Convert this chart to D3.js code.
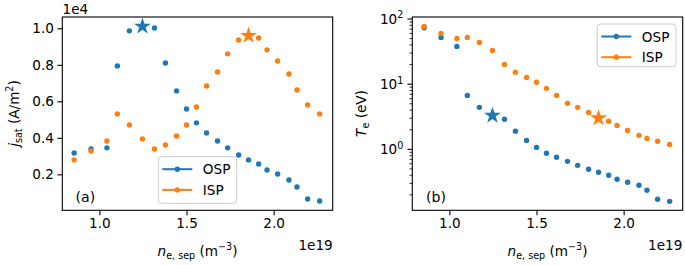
<!DOCTYPE html>
<html><head><meta charset="utf-8">
<script src="https://cdn.jsdelivr.net/npm/d3@7"></script>
<style>body{margin:0;background:#fff}svg{display:block}text{font-family:"DejaVu Sans",sans-serif;fill:#000}</style>
</head><body><svg id="c" width="685" height="265"></svg>
<script>
// density n_e,sep in units of 1e19 m^-3
const ne = [0.855,0.952,1.043,1.103,1.172,1.247,1.316,1.379,1.443,1.500,1.557,1.615,1.678,1.736,1.799,1.856,1.914,1.962,2.023,2.088,2.134,2.195,2.264];
// j_sat in units of 1e4 A/m^2
const jsatOSP = [0.317,0.339,0.345,0.794,0.986,1.015,1.002,0.810,0.657,0.558,0.482,0.427,0.383,0.345,0.306,0.279,0.257,0.224,0.202,0.169,0.131,0.065,0.054];
const jsatISP = [0.279,0.328,0.383,0.531,0.471,0.394,0.339,0.361,0.410,0.471,0.569,0.684,0.761,0.860,0.936,0.964,0.947,0.882,0.821,0.750,0.662,0.580,0.531];
// T_e in eV
const teOSP = [73.3,52.2,38.0,6.73,4.41,3.40,2.89,1.89,1.37,1.07,0.869,0.754,0.654,0.568,0.494,0.444,0.399,0.347,0.312,0.281,0.235,0.171,0.159];
const teISP = [77.0,60.1,50.4,52.2,43.8,33.0,20.1,15.2,12.7,10.7,8.62,6.73,5.08,4.41,3.69,3.10,2.69,2.33,1.95,1.64,1.47,1.33,1.19];
const starOSPIndex = 5, starISPIndex = 15;
const xTicks = [1.0,1.5,2.0];
const jTicks = [0.2,0.4,0.6,0.8,1.0];
const teTicks = [1,10,100];
const seriesNames = ["OSP","ISP"];
const colors = ["#1f77b4","#ff7f0e"];

const svg = d3.select("#c");
const FS = 13.6;
const SS = 9.6;

function panel(x0) {
  const g = svg.append("g");
  const x = d3.scaleLinear().domain([0.787,2.339]).range([x0, x0+270.4]);
  const xa = g.append("g").attr("transform","translate(0,210.3)")
    .call(d3.axisBottom(x).tickValues(xTicks).tickFormat(d3.format(".1f")).tickSize(4.9).tickPadding(3));
  xa.select(".domain").remove();
  xa.selectAll("text").attr("font-size",FS).attr("font-family","DejaVu Sans");
  xa.selectAll("line").attr("stroke","#000").attr("stroke-width",1.1);
  return {g, x};
}

function dots(g, x, y, xs, ys, color) {
  g.append("g").selectAll("circle").data(xs).join("circle")
    .attr("cx",(d)=>x(d)).attr("cy",(d,i)=>y(ys[i])).attr("r",2.7).attr("fill",color);
}
function star(g, x, y, xv, yv, color) {
  g.append("path").attr("d", d3.symbol(d3.symbolStar, 88)())
    .attr("transform",`translate(${x(xv)},${y(yv)+0.8})`).attr("fill",color);
}
function frame(g, x0) {
  g.append("rect").attr("x",x0).attr("y",17).attr("width",270.4).attr("height",193.3)
    .attr("fill","none").attr("stroke","#000").attr("stroke-width",1.1);
}
function legend(g, bx, by, bw, bh) {
  g.append("rect").attr("x",bx).attr("y",by).attr("width",bw).attr("height",bh).attr("rx",3)
    .attr("fill","#fff").attr("fill-opacity",0.8).attr("stroke","#cccccc").attr("stroke-width",1);
  seriesNames.forEach((n,i)=>{
    const yy = by + 12.5 + i*20.7;
    g.append("line").attr("x1",bx+4).attr("x2",bx+34).attr("y1",yy).attr("y2",yy)
      .attr("stroke",colors[i]).attr("stroke-width",2);
    g.append("circle").attr("cx",bx+19).attr("cy",yy).attr("r",2.7).attr("fill",colors[i]);
    g.append("text").attr("x",bx+44.5).attr("y",yy+5).attr("font-size",FS).text(n);
  });
}
function xlabel(g, cx) {
  const t = g.append("text").attr("x",cx).attr("y",255.5).attr("text-anchor","middle").attr("font-size",FS);
  t.append("tspan").attr("font-style","italic").text("n");
  t.append("tspan").attr("font-size",SS).attr("dy",3).text("e, sep");
  t.append("tspan").attr("dy",-3).text(" (m");
  t.append("tspan").attr("font-size",SS).attr("dy",-5.5).text("\u22123");
  t.append("tspan").attr("dy",5.5).text(")");
}

// Panel (a)
{
  const {g, x} = panel(62.3);
  const y = d3.scaleLinear().domain([0.003,1.062]).range([210.3,17]);
  const ya = g.append("g").attr("transform","translate(62.3,0)")
    .call(d3.axisLeft(y).tickValues(jTicks).tickFormat(d3.format(".1f")).tickSize(4.9).tickPadding(3.5));
  ya.select(".domain").remove();
  ya.selectAll("text").attr("font-size",FS).attr("font-family","DejaVu Sans");
  ya.selectAll("line").attr("stroke","#000").attr("stroke-width",1.1);
  dots(g,x,y,ne,jsatOSP,colors[0]);
  dots(g,x,y,ne,jsatISP,colors[1]);
  star(g,x,y,ne[starOSPIndex],jsatOSP[starOSPIndex],colors[0]);
  star(g,x,y,ne[starISPIndex],jsatISP[starISPIndex],colors[1]);
  legend(g,158.3,156.7,78.4,46.6);
  frame(g,62.3);
  g.append("text").attr("x",75.5).attr("y",202).attr("font-size",FS+0.5).text("(a)");
  g.append("text").attr("x",62.5).attr("y",13.5).attr("font-size",FS).text("1e4");
  g.append("text").attr("x",332.7).attr("y",250).attr("text-anchor","end").attr("font-size",FS).text("1e19");
  xlabel(g,197.5);
  const yl = g.append("text").attr("transform","translate(18.5,113.5) rotate(-90)").attr("text-anchor","middle").attr("font-size",FS);
  yl.append("tspan").attr("font-style","italic").text("j");
  yl.append("tspan").attr("font-size",SS).attr("dy",3).text("sat");
  yl.append("tspan").attr("dy",-3).text(" (A/m");
  yl.append("tspan").attr("font-size",SS).attr("dy",-5.5).text("2");
  yl.append("tspan").attr("dy",5.5).text(")");
}

// Panel (b)
{
  const {g, x} = panel(412.3);
  const y = d3.scaleLog().domain([0.1159,107.4]).range([210.3,17]);
  const ya = g.append("g").attr("transform","translate(412.3,0)");
  const minors = [];
  [0.1,1,10].forEach(dec=>{for(let k=2;k<=9;k++){const v=k*dec; if(v>=0.1159&&v<=107.4) minors.push(v);}});
  ya.selectAll("line.minor").data(minors).join("line").attr("class","minor")
    .attr("x1",0).attr("x2",-2.8).attr("y1",d=>y(d)).attr("y2",d=>y(d)).attr("stroke","#000").attr("stroke-width",0.8);
  ya.selectAll("line.major").data(teTicks).join("line").attr("class","major")
    .attr("x1",0).attr("x2",-4.9).attr("y1",d=>y(d)).attr("y2",d=>y(d)).attr("stroke","#000").attr("stroke-width",1.1);
  teTicks.forEach(v=>{
    const t = ya.append("text").attr("x",-9).attr("y",y(v)+4.9).attr("text-anchor","end").attr("font-size",FS);
    t.append("tspan").text("10");
    t.append("tspan").attr("font-size",SS).attr("dy",-5.5).text(String(Math.round(Math.log10(v))));
  });
  dots(g,x,y,ne,teOSP,colors[0]);
  dots(g,x,y,ne,teISP,colors[1]);
  star(g,x,y,ne[starOSPIndex],teOSP[starOSPIndex],colors[0]);
  star(g,x,y,ne[starISPIndex],teISP[starISPIndex],colors[1]);
  legend(g,597.3,24,78.7,42.7);
  frame(g,412.3);
  g.append("text").attr("x",426).attr("y",202).attr("font-size",FS+0.5).text("(b)");
  g.append("text").attr("x",682.3).attr("y",250).attr("text-anchor","end").attr("font-size",FS).text("1e19");
  xlabel(g,547.5);
  const yl = g.append("text").attr("transform","translate(366,113.5) rotate(-90)").attr("text-anchor","middle").attr("font-size",FS);
  yl.append("tspan").attr("font-style","italic").text("T");
  yl.append("tspan").attr("font-size",SS).attr("dy",3).text("e");
  yl.append("tspan").attr("dy",-3).text(" (eV)");
}
</script></body></html>
